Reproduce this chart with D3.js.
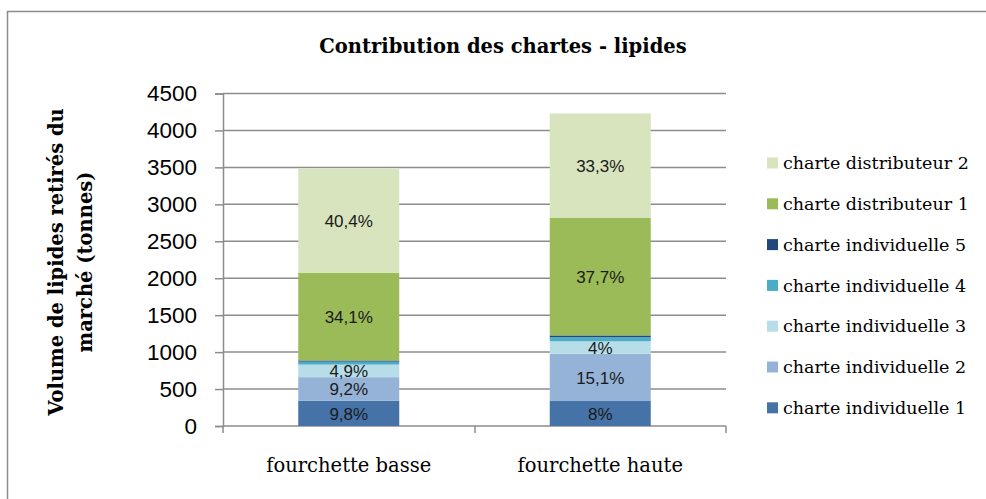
<!DOCTYPE html>
<html>
<head>
<meta charset="utf-8">
<script src="https://cdn.jsdelivr.net/npm/d3@7"></script>
<style>
  body { margin: 0; background: #fff; }
  svg { display: block; }
</style>
</head>
<body>
<div id="graph"></div>
<script>
// data (tonnes)
const categories = ["fourchette basse", "fourchette haute"];
const seriesNames = ["charte individuelle 1", "charte individuelle 2", "charte individuelle 3",
                     "charte individuelle 4", "charte individuelle 5",
                     "charte distributeur 1", "charte distributeur 2"];
const ind1 = [341, 338];
const ind2 = [320, 639];
const ind3 = [170, 169];
const ind4 = [40, 55];
const ind5 = [16, 25];
const dist1 = [1186, 1595];
const dist2 = [1406, 1409];
const pctLabels = [
  ["9,8%", "8%"],
  ["9,2%", "15,1%"],
  ["4,9%", "4%"],
  [null, null],
  [null, null],
  ["34,1%", "37,7%"],
  ["40,4%", "33,3%"]
];
const yTicks = [0, 500, 1000, 1500, 2000, 2500, 3000, 3500, 4000, 4500];
const colors = ["#4572a7", "#95b3d7", "#b7dee8", "#4bacc6", "#1f497d", "#9bbb59", "#d7e4bd"];

const width = 986, height = 499;
const serif = "'DejaVu Serif', 'Liberation Serif', serif";
const sans = "'Liberation Sans', Arial, sans-serif";
const grey = "#8c8c8c";

const svg = d3.select("#graph").append("svg")
    .attr("width", width)
    .attr("height", height);

// outer chart frame (right/bottom edges fall outside the crop)
svg.append("rect")
    .attr("x", 7.5).attr("y", 11.5)
    .attr("width", 1000).attr("height", 600)
    .attr("fill", "none")
    .attr("stroke", grey)
    .attr("stroke-width", 1.5);

const x = d3.scaleBand().domain(categories).range([223, 726]);
const y = d3.scaleLinear().domain([0, 4500]).range([426, 93.5]);

// stack the series
const rows = categories.map((c, i) => {
    const r = { cat: c };
    [ind1, ind2, ind3, ind4, ind5, dist1, dist2].forEach((arr, k) => r[seriesNames[k]] = arr[i]);
    return r;
});
const stacked = d3.stack().keys(seriesNames)(rows);

// gridlines
svg.append("g")
    .selectAll("line")
    .data(yTicks.slice(1))
    .enter().append("line")
    .attr("x1", 223).attr("x2", 726)
    .attr("y1", d => y(d)).attr("y2", d => y(d))
    .attr("stroke", grey)
    .attr("stroke-width", 1.5);

// y axis
const yAxis = svg.append("g")
    .attr("transform", "translate(223,0)")
    .call(d3.axisLeft(y).tickValues(yTicks).tickSize(8).tickPadding(18).tickFormat(d3.format("d")));
yAxis.select(".domain").attr("stroke", grey).attr("stroke-width", 1.5);
yAxis.selectAll(".tick line").attr("stroke", grey).attr("stroke-width", 1.5);
yAxis.selectAll("text")
    .attr("font-family", sans)
    .attr("font-size", "22.5px")
    .attr("fill", "#000");

// x axis
const xAxis = svg.append("g")
    .attr("transform", "translate(0," + y(0) + ")");
xAxis.append("line")
    .attr("x1", 223).attr("x2", 726)
    .attr("stroke", grey).attr("stroke-width", 1.5);
xAxis.selectAll(".sep")
    .data([223, 475, 726])
    .enter().append("line")
    .attr("x1", d => d).attr("x2", d => d)
    .attr("y1", 0).attr("y2", 7)
    .attr("stroke", grey).attr("stroke-width", 1.5);
xAxis.selectAll(".cat")
    .data(categories)
    .enter().append("text")
    .attr("x", d => x(d) + x.bandwidth() / 2)
    .attr("y", 46)
    .attr("text-anchor", "middle")
    .attr("font-family", serif)
    .attr("font-size", "19.5px")
    .attr("fill", "#000")
    .text(d => d);

// bars
const barW = 101;
const layers = svg.append("g").selectAll("g")
    .data(stacked)
    .enter().append("g")
    .attr("fill", (d, i) => colors[i]);

layers.selectAll("rect")
    .data(d => d)
    .enter().append("rect")
    .attr("x", (d, i) => x(categories[i]) + x.bandwidth() / 2 - barW / 2)
    .attr("y", d => y(d[1]))
    .attr("width", barW)
    .attr("height", d => y(d[0]) - y(d[1]));

// percentage labels
stacked.forEach((layer, k) => {
    layer.forEach((d, i) => {
        const lab = pctLabels[k][i];
        if (!lab) return;
        svg.append("text")
            .attr("x", x(categories[i]) + x.bandwidth() / 2)
            .attr("y", (y(d[0]) + y(d[1])) / 2)
            .attr("dy", "0.36em")
            .attr("text-anchor", "middle")
            .attr("font-family", sans)
            .attr("font-size", "17px")
            .attr("fill", "#1a1a1a")
            .text(lab);
    });
});

// title
svg.append("text")
    .attr("x", 503).attr("y", 53)
    .attr("text-anchor", "middle")
    .attr("font-family", serif)
    .attr("font-weight", "bold")
    .attr("font-size", "19.5px")
    .text("Contribution des chartes - lipides");

// y axis title
const yTitle = svg.append("text")
    .attr("transform", "translate(63,262) rotate(-90)")
    .attr("text-anchor", "middle")
    .attr("font-family", serif)
    .attr("font-weight", "bold")
    .attr("font-size", "19.5px");
yTitle.append("tspan").attr("x", 0).attr("y", 0).text("Volume de lipides retirés du");
yTitle.append("tspan").attr("x", 0).attr("y", 29).text("marché (tonnes)");

// legend, drawn top to bottom in reverse series order
const legend = svg.append("g").selectAll("g")
    .data(seriesNames.slice().reverse())
    .enter().append("g")
    .attr("transform", (d, i) => "translate(767," + (163 + i * 40.8) + ")");
legend.append("rect")
    .attr("x", 0).attr("y", -5.5)
    .attr("width", 11).attr("height", 11)
    .attr("fill", d => colors[seriesNames.indexOf(d)]);
legend.append("text")
    .attr("x", 16).attr("dy", "0.35em")
    .attr("font-family", serif)
    .attr("font-size", "17.5px")
    .text(d => d);
</script>
</body>
</html>
